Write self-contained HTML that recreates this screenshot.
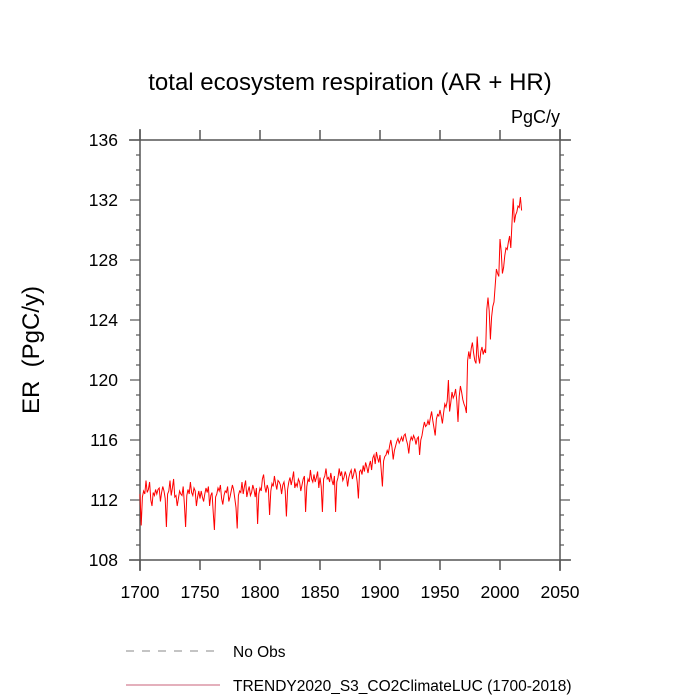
<!DOCTYPE html>
<html><head><meta charset="utf-8"><style>
body{margin:0;background:#fff;}
svg{display:block;font-family:"Liberation Sans",Arial,sans-serif;}
</style></head><body>
<svg id="chart" width="700" height="700" viewBox="0 0 700 700">
<text x="350" y="90" text-anchor="middle" font-size="24">total ecosystem respiration (AR + HR)</text>
<text x="560" y="123" text-anchor="end" font-size="18">PgC/y</text>
<text transform="translate(39,350) rotate(-90)" text-anchor="middle" font-size="24" style="white-space:pre" xml:space="preserve">ER  (PgC/y)</text>
<g id="axes"></g>
<g id="series"></g>
<g>
<line x1="126" y1="651" x2="220" y2="651" stroke="#888" stroke-width="1" stroke-dasharray="8,8"/>
<text x="233" y="657" font-size="15.5">No Obs</text>
<line x1="126" y1="685" x2="220" y2="685" stroke="#c8607a" stroke-width="1"/>
<text x="233" y="691" font-size="15.5">TRENDY2020_S3_CO2ClimateLUC (1700-2018)</text>
</g>
</svg>
<script>
const startYear = 1700;
const xTicks = [1700,1750,1800,1850,1900,1950,2000,2050];
const yTicks = [108,112,116,120,124,128,132,136];
const erValues = [
112.4,110.3,112.2,112.6,112.4,113.3,112.5,112.7,113.2,112.0,
111.6,112.5,112.3,112.7,112.4,112.7,112.8,111.9,112.5,112.9,
112.6,112.1,110.2,112.4,112.6,113.3,112.3,112.8,113.4,112.2,
112.3,111.6,112.1,112.6,112.4,112.3,112.9,111.7,110.2,112.3,
112.7,112.4,113.2,112.5,112.3,112.8,112.6,111.6,112.2,112.6,
112.1,112.6,112.2,111.9,112.4,112.8,112.5,112.9,111.6,112.3,
112.5,111.2,110.0,112.2,112.4,112.8,112.6,113.0,112.1,111.7,
112.3,112.6,112.5,112.9,111.9,112.2,112.6,113.0,112.7,112.1,
111.5,110.1,112.3,112.6,112.5,113.2,112.4,112.9,113.3,112.2,
112.6,112.9,112.3,112.5,113.0,112.7,112.2,112.8,110.4,112.4,
112.8,112.6,113.4,113.7,112.9,112.5,113.0,112.7,111.0,112.6,
113.1,112.9,113.6,113.1,112.7,113.3,113.2,113.0,112.4,113.0,
113.2,112.6,110.9,112.7,113.2,113.5,113.0,113.4,113.9,112.8,
113.1,112.9,113.4,113.2,112.6,113.0,113.4,113.6,111.2,112.9,
113.4,113.2,114.0,113.4,113.2,113.7,113.2,113.5,113.9,112.8,
113.5,112.9,111.2,113.4,113.6,114.1,113.4,113.5,113.2,113.8,
113.3,113.0,113.6,111.2,113.2,113.5,114.1,113.6,113.9,113.3,
113.5,113.9,113.6,112.9,113.5,113.8,114.0,113.4,113.7,114.1,
113.8,113.2,112.1,113.9,114.0,113.7,114.3,113.9,114.5,114.2,
113.8,114.3,114.6,114.0,114.8,115.0,114.4,115.2,114.8,114.5,
115.0,114.0,112.9,114.6,114.9,115.0,115.3,115.1,115.6,116.0,
115.5,114.7,115.3,115.6,115.9,116.1,115.8,116.0,116.2,115.9,
116.3,116.4,116.0,115.7,115.1,115.9,116.2,116.0,116.3,116.1,
115.7,116.1,116.2,115.0,116.0,116.3,116.8,117.2,116.9,117.0,
117.3,117.0,117.5,117.9,117.3,116.8,116.3,117.4,117.7,117.6,
118.0,117.6,117.1,117.8,118.4,118.2,118.6,120.0,117.9,118.5,
119.2,118.8,119.0,119.4,118.6,117.2,118.9,119.6,119.2,118.7,
118.4,118.2,117.8,121.3,121.9,121.4,122.1,122.5,121.8,121.3,
121.1,122.9,121.6,121.1,121.9,122.2,121.7,122.0,121.8,124.7,
125.5,124.6,122.7,124.2,124.9,125.2,126.3,127.4,127.1,126.9,
129.4,128.6,127.1,127.5,128.3,128.8,128.7,129.2,129.6,128.8,
130.5,132.1,130.5,131.0,131.2,131.6,131.5,132.2,131.3
];
const NS='http://www.w3.org/2000/svg';
const L=140,R=560,T=140,B=560;
const xMin=1700,xMax=2050,yMin=108,yMax=136;
function xs(v){return L+(v-xMin)/(xMax-xMin)*(R-L);}
function ys(v){return B-(v-yMin)/(yMax-yMin)*(B-T);}
function mk(tag,attrs,parent){const e=document.createElementNS(NS,tag);for(const k in attrs)e.setAttribute(k,attrs[k]);parent.appendChild(e);return e;}
const axes=document.getElementById('axes');
const ac='#555';
let e;
e=mk('line',{x1:129,y1:T,x2:571,y2:T,stroke:ac,'stroke-width':1.5},axes);


e=mk('line',{x1:129,y1:B,x2:571,y2:B,stroke:ac,'stroke-width':1.5},axes);


e=mk('line',{x1:L,y1:129,x2:L,y2:571,stroke:ac,'stroke-width':1.5},axes);


e=mk('line',{x1:R,y1:129,x2:R,y2:571,stroke:ac,'stroke-width':1.5},axes);


xTicks.forEach(v=>{
  const x=xs(v);
  mk('line',{x1:x,y1:B,x2:x,y2:B+10,stroke:ac,'stroke-width':1.5},axes);
  mk('line',{x1:x,y1:T,x2:x,y2:T-10,stroke:ac,'stroke-width':1.5},axes);
  const t=mk('text',{x:x,y:B+38,'text-anchor':'middle','font-size':17.5},axes);
  t.textContent=v;
  
  
});
for(let v=yMin; v<=yMax; v+=1){
  const y=ys(v);
  const major=yTicks.indexOf(v)>=0;
  const len=major?10:4;
  mk('line',{x1:L-len,y1:y,x2:L,y2:y,stroke:ac,'stroke-width':1.2},axes);
  mk('line',{x1:R,y1:y,x2:R+len,y2:y,stroke:ac,'stroke-width':1.2},axes);
  if(major){
    const t=mk('text',{x:L-22,y:y+6,'text-anchor':'end','font-size':17.5},axes);
    t.textContent=v;
    
    
  }
}
const pts=erValues.map((v,i)=>xs(startYear+i).toFixed(2)+','+ys(v).toFixed(2)).join(' ');
const line=mk('polyline',{points:pts,fill:'none',stroke:'#ff0000','stroke-width':1},document.getElementById('series'));


</script>
</body></html>
